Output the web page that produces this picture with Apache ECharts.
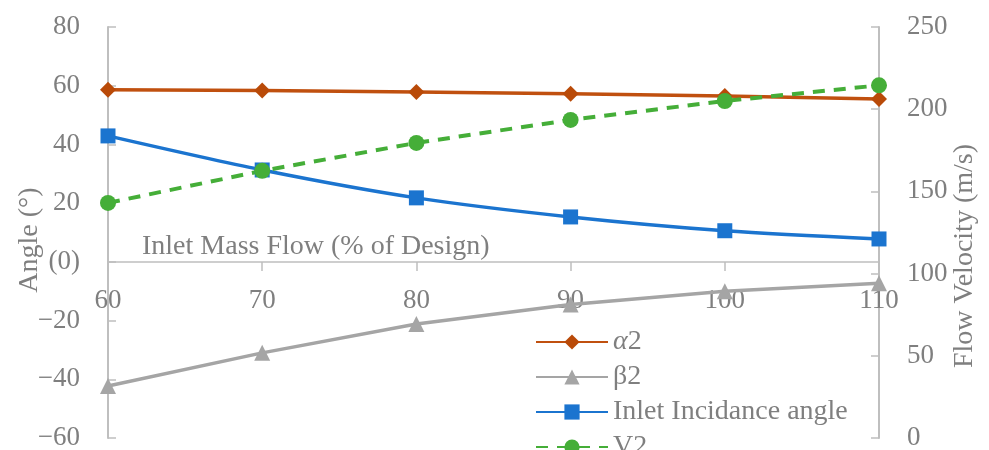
<!DOCTYPE html>
<html><head><meta charset="utf-8">
<script src="https://cdn.jsdelivr.net/npm/echarts@6/dist/echarts.min.js"></script>
<style>html,body{margin:0;padding:0;background:#fff}#c{width:989px;height:450px}</style>
</head><body><div id="c"></div>
<script>
const categories = ['60','70','80','90','100','110'];
const alpha2 = [58.6, 58.4, 57.9, 57.3, 56.5, 55.5];
const beta2 = [-42.3, -31.0, -21.2, -14.5, -10.0, -7.3];
const incidence = [42.9, 31.3, 21.8, 15.3, 10.6, 7.8];
const v2 = [143, 162.5, 179.5, 193.5, 205, 214.5];
const seriesNames = ['α2', 'β2', 'Inlet Incidance angle', 'V2'];
const leftAxisTitle = 'Angle (°)';
const rightAxisTitle = 'Flow Velocity (m/s)';

const FONT = 'Liberation Serif';
const FS = 27;
const GREY = '#7f7f7f';
const AX = '#bfbfbf';
const chart = echarts.init(document.getElementById('c'), null, {renderer: 'canvas'});
const fmtLeft = v => v === 0 ? '(0)' : (v < 0 ? '\u2212' + Math.abs(v) : String(v));
chart.setOption({
  animation: false,
  textStyle: {fontFamily: FONT},
  grid: {left: 108, right: 110, top: 27, bottom: 12, containLabel: false, outerBoundsMode: 'none'},
  legend: {
    orient: 'vertical', left: 530, top: 323, height: 300, itemGap: 7, itemWidth: 72, itemHeight: 19,
    data: seriesNames,
    textStyle: {fontFamily: FONT, fontSize: 28, color: GREY, rich: {i: {fontStyle: 'italic', fontFamily: FONT, fontSize: 28, color: GREY}}},
    formatter: n => n === 'α2' ? '{i|α}2' : n
  },
  graphic: [
    {type: 'text', x: 30, y: 240, rotation: Math.PI / 2,
     style: {text: leftAxisTitle, font: '28px "Liberation Serif"', fill: GREY, align: 'center', verticalAlign: 'middle'}},
    {type: 'text', x: 965, y: 256, rotation: Math.PI / 2,
     style: {text: rightAxisTitle, font: '28px "Liberation Serif"', fill: GREY, align: 'center', verticalAlign: 'middle'}}
  ],
  xAxis: {
    type: 'category', data: categories, boundaryGap: false,
    offset: -176.1,
    axisLine: {onZero: false, lineStyle: {color: AX, width: 1.5}},
    axisTick: {show: true, inside: false, length: 9, lineStyle: {color: AX, width: 1.5}},
    axisLabel: {margin: 26, fontSize: FS, color: GREY, fontFamily: FONT},
    splitLine: {show: false},
    name: 'Inlet Mass Flow (% of Design)', nameLocation: 'start', nameGap: -34, nameMoveOverlap: false,
    nameTextStyle: {fontSize: 28, color: GREY, fontFamily: FONT, align: 'left', verticalAlign: 'bottom', padding: [0,0,1,0]}
  },
  yAxis: [{
    type: 'value', min: -60, max: 80, interval: 20,
    axisLine: {show: true, lineStyle: {color: AX, width: 2}},
    axisTick: {show: true, inside: true, length: 8, lineStyle: {color: AX, width: 1.5}},
    axisLabel: {margin: 28, fontSize: FS, color: GREY, fontFamily: FONT, formatter: fmtLeft},
    splitLine: {show: false}
  }, {
    type: 'value', min: 0, max: 250, interval: 50, position: 'right',
    axisLine: {show: true, lineStyle: {color: AX, width: 2}},
    axisTick: {show: true, inside: true, length: 8, lineStyle: {color: AX, width: 1.5}},
    axisLabel: {margin: 28, fontSize: FS, color: GREY, fontFamily: FONT},
    splitLine: {show: false}
  }],
  series: [
    {name: seriesNames[0], type: 'line', data: alpha2, yAxisIndex: 0, symbol: 'diamond', symbolSize: 16,
     lineStyle: {color: '#c0500f', width: 3.5}, itemStyle: {color: '#b94a08'}},
    {name: seriesNames[1], type: 'line', data: beta2, yAxisIndex: 0, symbol: 'triangle', symbolSize: 16,
     lineStyle: {color: '#a5a5a5', width: 3.5}, itemStyle: {color: '#a5a5a5'}},
    {name: seriesNames[2], type: 'line', data: incidence, yAxisIndex: 0, symbol: 'rect', symbolSize: 15,
     smooth: 0.3,
     lineStyle: {color: '#1b74cf', width: 3.5}, itemStyle: {color: '#1b74cf'}},
    {name: seriesNames[3], type: 'line', data: v2, yAxisIndex: 1, symbol: 'circle', symbolSize: 16,
     lineStyle: {color: '#45ae38', width: 4, type: [12, 9]}, itemStyle: {color: '#45ae38'}}
  ]
});
</script></body></html>
